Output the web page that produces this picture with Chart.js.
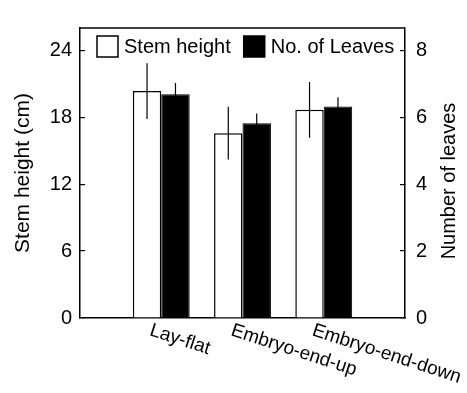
<!DOCTYPE html>
<html>
<head>
<meta charset="utf-8">
<script src="https://cdn.jsdelivr.net/npm/chart.js@4.4.1/dist/chart.umd.min.js"></script>
<style>
  html, body { margin: 0; padding: 0; background: #fff; }
</style>
</head>
<body>
<canvas id="stemChart" width="467" height="393"></canvas>
<script>
// Blank slots at both ends leave one empty group of room on each side
const categories = ['', 'Lay-flat', 'Embryo-end-up', 'Embryo-end-down', ''];
const stemHeight = [null, 20.35, 16.57, 18.66, null];
const stemHeightErr = [null, 2.5, 2.37, 2.5, null];
const leafCount = [null, 6.69, 5.82, 6.32, null];
const leafCountErr = [null, 0.33, 0.29, 0.28, null];
const stemTicks = [0, 6, 12, 18, 24];
const leafTicks = [0, 2, 4, 6, 8];
const errors = [stemHeightErr, leafCountErr];

const FONT = "'Liberation Sans', Arial, sans-serif";
Chart.defaults.font.family = FONT;
Chart.defaults.color = '#000';

// Vertical error lines, no caps
const errorBars = {
    id: 'errorBars',
    afterDatasetsDraw(chart) {
        const ctx = chart.ctx;
        ctx.save();
        ctx.strokeStyle = '#000';
        ctx.lineWidth = 1.2;
        chart.data.datasets.forEach((ds, i) => {
            const meta = chart.getDatasetMeta(i);
            const scale = chart.scales[meta.yAxisID];
            meta.data.forEach((bar, j) => {
                const v = ds.data[j];
                const e = errors[i][j];
                if (v == null || e == null) return;
                ctx.beginPath();
                ctx.moveTo(bar.x, scale.getPixelForValue(v + e));
                ctx.lineTo(bar.x, scale.getPixelForValue(v - e));
                ctx.stroke();
            });
        });
        ctx.restore();
    }
};

// Top frame line, slanted category labels, right title and the inset legend
const extras = {
    id: 'extras',
    afterDraw(chart) {
        const ctx = chart.ctx;
        const area = chart.chartArea;
        const xs = chart.scales.x;
        ctx.save();

        ctx.strokeStyle = '#000';
        ctx.lineWidth = 1.5;
        ctx.beginPath();
        ctx.moveTo(area.left, area.top);
        ctx.lineTo(area.right, area.top);
        ctx.stroke();

        ctx.fillStyle = '#000';
        ctx.font = '19px ' + FONT;
        ctx.textAlign = 'left';
        ctx.textBaseline = 'top';
        categories.forEach((c, i) => {
            if (!c) return;
            ctx.save();
            ctx.translate(xs.getPixelForTick(i) - 8, area.bottom + 3);
            ctx.rotate(18 * Math.PI / 180);
            ctx.fillText(c, 0, 0);
            ctx.restore();
        });

        ctx.save();
        ctx.font = '20px ' + FONT;
        ctx.textAlign = 'center';
        ctx.textBaseline = 'middle';
        ctx.translate(area.right + 44, (area.top + area.bottom) / 2 + 8);
        ctx.rotate(-Math.PI / 2);
        ctx.fillText('Number of leaves', 0, 0);
        ctx.restore();

        // legend
        ctx.font = '20px ' + FONT;
        ctx.textAlign = 'left';
        ctx.textBaseline = 'middle';
        let lx = area.left + 17;
        const ly = area.top + 8;
        const box = 21;
        chart.data.datasets.forEach(ds => {
            ctx.fillStyle = ds.backgroundColor;
            ctx.fillRect(lx, ly, box, box);
            ctx.strokeStyle = '#000';
            ctx.lineWidth = 1.5;
            ctx.strokeRect(lx, ly, box, box);
            ctx.fillStyle = '#000';
            ctx.fillText(ds.label, lx + box + 6, ly + box / 2 + 1);
            lx += box + 6 + ctx.measureText(ds.label).width + 13;
        });
        ctx.restore();
    }
};

const ctx = document.getElementById('stemChart').getContext('2d');
new Chart(ctx, {
    type: 'bar',
    data: {
        labels: categories,
        datasets: [{
            label: 'Stem height',
            data: stemHeight,
            yAxisID: 'y',
            backgroundColor: '#fff',
            borderColor: '#000',
            borderWidth: 1.5
        }, {
            label: 'No. of Leaves',
            data: leafCount,
            yAxisID: 'y1',
            backgroundColor: '#000',
            borderColor: '#000',
            borderWidth: 1
        }]
    },
    options: {
        responsive: false,
        animation: false,
        devicePixelRatio: 1,
        layout: { padding: { top: 11, left: 0, right: 0, bottom: 0 } },
        categoryPercentage: 0.7,
        barPercentage: 1,
        plugins: {
            legend: { display: false },
            tooltip: { enabled: false }
        },
        scales: {
            x: {
                type: 'category',
                offset: false,
                grid: { display: false },
                border: { display: true, color: '#000', width: 1.5 },
                ticks: { display: false },
                afterFit: s => { s.height = 75; }
            },
            y: {
                position: 'left',
                min: 0,
                max: 26,
                afterBuildTicks: s => { s.ticks = stemTicks.map(v => ({ value: v })); },
                afterFit: s => { s.width = 80; },
                grid: { drawOnChartArea: false, tickLength: -5, color: '#000', lineWidth: 1.2 },
                border: { display: true, color: '#000', width: 1.5 },
                ticks: { font: { size: 20 }, padding: 13 },
                title: {
                    display: true,
                    text: 'Stem height (cm)',
                    font: { size: 21 },
                    padding: { top: 11, bottom: 0 }
                }
            },
            y1: {
                position: 'right',
                min: 0,
                max: 26 / 3,
                afterBuildTicks: s => { s.ticks = leafTicks.map(v => ({ value: v })); },
                afterFit: s => { s.width = 62; },
                grid: { drawOnChartArea: false, tickLength: -5, color: '#000', lineWidth: 1.2 },
                border: { display: true, color: '#000', width: 1.5 },
                ticks: { font: { size: 20 }, padding: 16 }
            }
        }
    },
    plugins: [errorBars, extras]
});
</script>
</body>
</html>
